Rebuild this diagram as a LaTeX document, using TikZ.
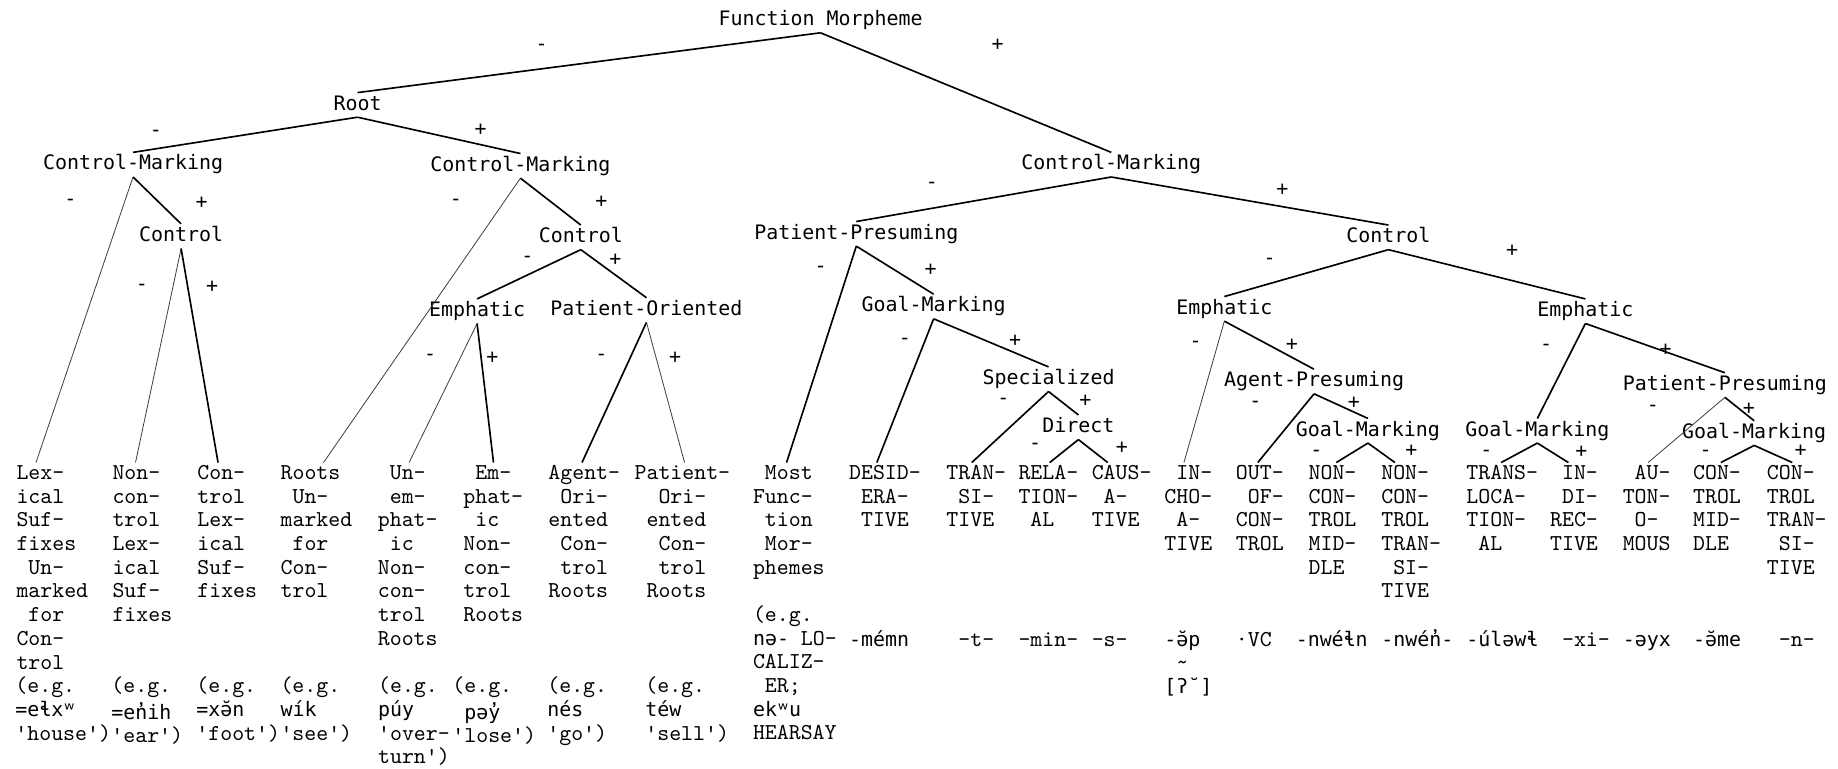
\documentclass[tikz,border=0pt]{standalone}
\usepackage{fontspec}
\newfontfamily\labfamily{DejaVu Sans Mono}[Ligatures=TeXOff]
\newfontfamily\ipafamily{DejaVu Sans Mono}[Ligatures=TeXOff]
\usetikzlibrary{calc}
\newcommand\blk{\hphantom{0}}
\newcommand\ipa[1]{{\ipafamily\fontsize{8.5}{10.1}\selectfont #1}}
\newcommand\labfont{\labfamily\fontsize{8.5}{10}\selectfont}
\newcommand\leaffont{\ttfamily\fontsize{9.7}{10.1}\selectfont}
\tikzset{
  lab/.style={font=\labfont, inner sep=1pt, text height=6.3pt, text depth=1.8pt, anchor=base},
  sgn/.style={font=\labfont, inner sep=0pt, anchor=center},
  leaf/.style={font=\leaffont, inner sep=0pt, align=left, anchor=north west},
  link/.style={line width=0.7pt},
  faintlink/.style={line width=0.35pt, black!75},
}
\begin{document}
\begin{tikzpicture}[x=0.5pt,y=-0.5pt]
\useasboundingbox (0,0) rectangle (1568,656);
% ---------- inner labels ----------
\node[lab] (fm)   at (700,22)   {Function Morpheme};
\node[lab] (root) at (305,94)   {Root};
\node[lab] (cm1)  at (113.5,145) {Control-Marking};
\node[lab] (cm2)  at (444,146)  {Control-Marking};
\node[lab] (cm3)  at (948,145)  {Control-Marking};
\node[lab] (ctl1) at (154.5,206) {Control};
\node[lab] (ctl2) at (495.5,207) {Control};
\node[lab] (em1)  at (407,270)  {Emphatic};
\node[lab] (po)   at (551.5,269) {Patient-Oriented};
\node[lab] (pp1)  at (730.5,204) {Patient-Presuming};
\node[lab] (gm1)  at (796.5,266) {Goal-Marking};
\node[lab] (spec) at (894.5,328) {Specialized};
\node[lab] (dir)  at (920,369)  {Direct};
\node[lab] (ctl3) at (1184.5,207) {Control};
\node[lab] (em2)  at (1044.5,268) {Emphatic};
\node[lab] (em3)  at (1352.5,270) {Emphatic};
\node[lab] (ap)   at (1121,330) {Agent-Presuming};
\node[lab] (gm2)  at (1167,372) {Goal-Marking};
\node[lab] (gm3)  at (1311.5,372) {Goal-Marking};
\node[lab] (pp2)  at (1471.5,333) {Patient-Presuming};
\node[lab] (gm4)  at (1496.5,374) {Goal-Marking};
% ---------- signs ----------
\node[sgn] (s1)  at (462,40)   {-};
\node[sgn] (s2)  at (851,38)   {+};
\node[sgn] (s3)  at (133,114)  {-};
\node[sgn] (s4)  at (410,111)  {+};
\node[sgn] (s5)  at (60,173)   {-};
\node[sgn] (s6)  at (172,173)  {+};
\node[sgn] (s7)  at (121,245)  {-};
\node[sgn] (s8)  at (181,245)  {+};
\node[sgn] (s9)  at (389,173)  {-};
\node[sgn] (s10) at (513,172)  {+};
\node[sgn] (s11) at (450,221)  {-};
\node[sgn] (s12) at (525,222)  {+};
\node[sgn] (s13) at (367,305)  {-};
\node[sgn] (s14) at (420,305)  {+};
\node[sgn] (s15) at (513,305)  {-};
\node[sgn] (s16) at (576,305)  {+};
\node[sgn] (s17) at (795,158)  {-};
\node[sgn] (s18) at (1094,162) {+};
\node[sgn] (s19) at (700,230)  {-};
\node[sgn] (s20) at (794,230)  {+};
\node[sgn] (s21) at (772,291)  {-};
\node[sgn] (s22) at (866,291)  {+};
\node[sgn] (s23) at (856,342)  {-};
\node[sgn] (s24) at (926,342)  {+};
\node[sgn] (s25) at (883,381)  {-};
\node[sgn] (s26) at (957,382)  {+};
\node[sgn] (s27) at (1083,223) {-};
\node[sgn] (s28) at (1290,214) {+};
\node[sgn] (s29) at (1020,294) {-};
\node[sgn] (s30) at (1102,294) {+};
\node[sgn] (s31) at (1071,345) {-};
\node[sgn] (s32) at (1155,344) {+};
\node[sgn] (s33) at (1123,386.5) {-};
\node[sgn] (s34) at (1204,385) {+};
\node[sgn] (s35) at (1319,296) {-};
\node[sgn] (s36) at (1421,298) {+};
\node[sgn] (s37) at (1268,386.5) {-};
\node[sgn] (s38) at (1349,385.5) {+};
\node[sgn] (s39) at (1410,348) {-};
\node[sgn] (s40) at (1492,349) {+};
\node[sgn] (s41) at (1455,387) {-};
\node[sgn] (s42) at (1536,385) {+};
% ---------- leaves ----------
\node[leaf] (l1)  at (13.7,394.6)  {\strut Lex-\\ical\\Suf-\\fixes\\\blk Un-\\marked\\\blk for\\Con-\\trol};
\node[leaf] (l2)  at (95.6,394.6)  {\strut Non-\\con-\\trol\\Lex-\\ical\\Suf-\\fixes};
\node[leaf] (l3)  at (168,394.6)   {\strut Con-\\trol\\Lex-\\ical\\Suf-\\fixes};
\node[leaf] (l4)  at (239,394.6)   {\strut Roots\\\blk Un-\\marked\\\blk for\\Con-\\trol};
\node[leaf] (l5)  at (322,394.6)   {\strut\blk Un-\\\blk em-\\phat-\\\blk ic\\Non-\\con-\\trol\\Roots};
\node[leaf] (l6)  at (395,394.6)   {\strut\blk Em-\\phat-\\\blk ic\\Non-\\con-\\trol\\Roots};
\node[leaf] (l7)  at (467.5,394.6) {\strut Agent-\\\blk Ori-\\ented\\\blk Con-\\\blk trol\\Roots};
\node[leaf] (l8)  at (541,394.6)   {\strut Patient-\\\blk\blk Ori-\\\blk ented\\\blk\blk Con-\\\blk\blk trol\\\blk Roots};
\node[leaf] (l9)  at (642,394.6)   {\strut\blk Most\\Func-\\\blk tion\\\blk Mor-\\phemes};
\node[leaf] (l10) at (724,394.6)   {\strut DESID-\\\blk ERA-\\\blk TIVE};
\node[leaf] (l11) at (807,394.6)   {\strut TRAN-\\\blk SI-\\TIVE};
\node[leaf] (l12) at (868.5,394.6) {\strut RELA-\\TION-\\\blk AL};
\node[leaf] (l13) at (931,394.6)   {\strut CAUS-\\\blk A-\\TIVE};
\node[leaf] (l14) at (993,394.6)   {\strut\blk IN-\\CHO-\\\blk A-\\TIVE};
\node[leaf] (l15) at (1054,394.6)  {\strut OUT-\\\blk OF-\\CON-\\TROL};
\node[leaf] (l16) at (1116,394.6)  {\strut NON-\\CON-\\TROL\\MID-\\DLE};
\node[leaf] (l17) at (1178,394.6)  {\strut NON-\\CON-\\TROL\\TRAN-\\\blk SI-\\TIVE};
\node[leaf] (l18) at (1250.6,394.6) {\strut TRANS-\\LOCA-\\TION-\\\blk AL};
\node[leaf] (l19) at (1322,394.6)  {\strut\blk IN-\\\blk DI-\\REC-\\TIVE};
\node[leaf] (l20) at (1384,394.6)  {\strut\blk AU-\\TON-\\\blk O-\\MOUS};
\node[leaf] (l21) at (1444,394.6)  {\strut CON-\\TROL\\MID-\\DLE};
\node[leaf] (l22) at (1507,394.6)  {\strut CON-\\TROL\\TRAN-\\\blk SI-\\TIVE};
% ---------- examples ----------
\node[leaf] (e1) at (12.8,576.6)  {\strut(e.g.\\\ipa{=eɬxʷ}\\'house')};
\node[leaf] (e2) at (94.7,576.6)  {\strut(e.g.\\\ipa{=en̓ih}\\'ear')};
\node[leaf] (e3) at (167.2,576.6) {\strut(e.g.\\\ipa{=xə̆n}\\'foot')};
\node[leaf] (e4) at (238.9,576.6) {\strut(e.g.\\\ipa{wík}\\'see')};
\node[leaf] (e5) at (322.2,576.6) {\strut(e.g.\\\ipa{púy}\\'over-\\turn')};
\node[leaf] (e6) at (385.6,576.6) {\strut(e.g.\\\blk\ipa{pəy̓}\\'lose')};
\node[leaf] (e7) at (466.6,576.6) {\strut(e.g.\\\ipa{nés}\\'go')};
\node[leaf] (e8) at (550.2,576.6) {\strut(e.g.\\\ipa{téw}\\'sell')};
\node[leaf] (e9) at (642,515.6)   {\strut(e.g.\\\ipa{nə-} LO-\\CALIZ-\\\blk ER;\\\ipa{ekʷu}\\HEARSAY};
% ---------- morphemes ----------
\node[leaf] (m10) at (724,536.6)   {\strut\ipa{-mémn}};
\node[leaf] (m11) at (807,536.6)   {\strut\blk -t-};
\node[leaf] (m12) at (868.5,536.6) {\strut -min-};
\node[leaf] (m13) at (931,536.6)   {\strut -s-};
\node[leaf] (m14) at (993,536.6)   {\strut\ipa{-ə̆p}\\\blk\textasciitilde\\\ipa{[ʔ˘]}};
\node[leaf] (m15) at (1054,536.6)  {\strut ·VC};
\node[leaf] (m16) at (1105,536.6)  {\strut\ipa{-nwéɬn}};
\node[leaf] (m17) at (1178,536.6)  {\strut\ipa{-nwén̓-}};
\node[leaf] (m18) at (1250.6,536.6) {\strut\ipa{-úləwɬ}};
\node[leaf] (m19) at (1322,536.6)  {\strut\blk -xi-};
\node[leaf] (m20) at (1384,536.6)  {\strut\ipa{-əyx}};
\node[leaf] (m21) at (1444,536.6)  {\strut\ipa{-ə̆me}};
\node[leaf] (m22) at (1507,536.6)  {\strut\blk -n-};
% ---------- connectors ----------
\draw[link] (fm.south) -- (root.north);
\draw[link] (fm.south) -- (cm3.north);
\draw[link] (root.south) -- (cm1.north);
\draw[link] (root.south) -- (cm2.north);
\draw[faintlink] (cm1.south) -- ($(l1.north west)+(17,0)$);
\draw[link] (cm1.south) -- (ctl1.north);
\draw[faintlink] (ctl1.south) -- ($(l2.north west)+(20,0)$);
\draw[link] (ctl1.south) -- ($(l3.north west)+(18,0)$);
\draw[faintlink] (cm2.south) -- ($(l4.north west)+(37,0)$);
\draw[link] (cm2.south) -- (ctl2.north);
\draw[link] (ctl2.south) -- (em1.north);
\draw[link] (ctl2.south) -- (po.north);
\draw[faintlink] (em1.south) -- ($(l5.north west)+(27,0)$);
\draw[link] (em1.south) -- ($(l6.north west)+(26,0)$);
\draw[link] (po.south) -- ($(l7.north west)+(29,0)$);
\draw[faintlink] (po.south) -- ($(l8.north west)+(43,0)$);
\draw[link] (cm3.south) -- (pp1.north);
\draw[link] (cm3.south) -- (ctl3.north);
\draw[link] (pp1.south) -- ($(l9.north west)+(29,0)$);
\draw[link] (pp1.south) -- (gm1.north);
\draw[link] (gm1.south) -- ($(l10.north west)+(24,0)$);
\draw[link] (gm1.south) -- (spec.north);
\draw[link] (spec.south) -- ($(l11.north west)+(22,0)$);
\draw[link] (spec.south) -- (dir.north);
\draw[link] (dir.south) -- ($(l12.north west)+(27,0)$);
\draw[link] (dir.south) -- ($(l13.north west)+(14,0)$);
\draw[link] (ctl3.south) -- (em2.north);
\draw[link] (ctl3.south) -- (em3.north);
\draw[faintlink] (em2.south) -- ($(l14.north west)+(17,0)$);
\draw[link] (em2.south) -- (ap.north);
\draw[link] (ap.south) -- ($(l15.north west)+(19,0)$);
\draw[link] (ap.south) -- (gm2.north);
\draw[link] (gm2.south) -- ($(l16.north west)+(24,0)$);
\draw[link] (gm2.south) -- ($(l17.north west)+(12,0)$);
\draw[link] (em3.south) -- (gm3.north);
\draw[link] (em3.south) -- (pp2.north);
\draw[link] (gm3.south) -- ($(l18.north west)+(30,0)$);
\draw[link] (gm3.south) -- ($(l19.north west)+(16,0)$);
\draw[faintlink] (pp2.south) -- ($(l20.north west)+(22,0)$);
\draw[link] (pp2.south) -- (gm4.north);
\draw[link] (gm4.south) -- ($(l21.north west)+(24,0)$);
\draw[link] (gm4.south) -- ($(l22.north west)+(22,0)$);
\end{tikzpicture}
\end{document}
